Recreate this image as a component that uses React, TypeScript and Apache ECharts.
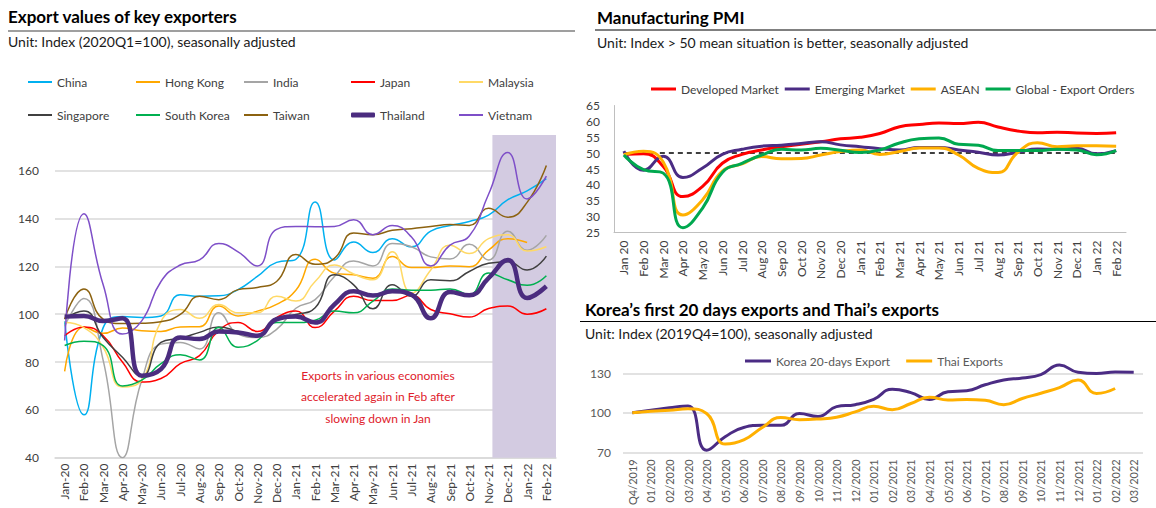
import React, { useEffect, useRef } from 'react';
import * as echarts from 'echarts';

const FONT = 'Lato, "Open Sans", "Noto Sans", sans-serif';

// ---------- Left panel: export values of key exporters ----------
const MONTHS = [
  'Jan-20', 'Feb-20', 'Mar-20', 'Apr-20', 'May-20', 'Jun-20', 'Jul-20', 'Aug-20', 'Sep-20', 'Oct-20', 'Nov-20', 'Dec-20',
  'Jan-21', 'Feb-21', 'Mar-21', 'Apr-21', 'May-21', 'Jun-21', 'Jul-21', 'Aug-21', 'Sep-21', 'Oct-21', 'Nov-21', 'Dec-21',
  'Jan-22', 'Feb-22',
];
const COUNTRIES = ['China', 'Hong Kong', 'India', 'Japan', 'Malaysia', 'Singapore', 'South Korea', 'Taiwan', 'Thailand', 'Vietnam'];
const CHINA = [97, 57.9, 94.4, 99, 98.6, 99.3, 108.2, 107.5, 107.7, 110.3, 115.8, 121.7, 123, 147, 122.7, 130.2, 125.8, 131.6, 128.2, 134.8, 137.1, 138.8, 141.5, 147.9, 151.6, 156.7];
const HONG_KONG = [76.1, 94.7, 92, 94.2, 93.1, 92.8, 94.7, 94.8, 103.4, 99.3, 101.3, 104.1, 110, 123, 117.2, 116.5, 115.1, 124.1, 119.5, 119.5, 120.2, 119.9, 126.8, 131.6, 130, null];
const INDIA = [95, 106.6, 80.7, 40, 72.4, 87.5, 88.2, 85.5, 100.6, 91.7, 90.3, 93.7, 102.5, 106.1, 115.8, 122.3, 120.2, 129.6, 128.2, 124, 123.1, 129.3, 122.7, 134.7, 126.8, 133];
const JAPAN = [91, 94.7, 91, 80, 71.7, 73.1, 79.3, 82.7, 93.2, 96.5, 92.8, 98.6, 101.3, 94.4, 101.3, 107.5, 105.7, 105.7, 107.9, 102, 100.2, 98.8, 102.4, 103.4, 100, 102.3];
const MALAYSIA = [96.5, 94.4, 86.2, 69.6, 72.4, 97, 102, 98.3, 104.1, 100.6, 100.6, 107.5, 105.5, 113.7, 120.6, 116.8, 114.4, 126.1, 108.9, 118.5, 128.9, 125.4, 131.6, 133.3, 126.4, 128.2];
const SINGAPORE = [98, 101.3, 90.3, 82, 74.1, 88.2, 90, 92.4, 94.7, 92.8, 91, 97.9, 99.9, 102.7, 116.5, 112.3, 102.3, 112.3, 107.5, 114.4, 114, 117.9, 121.3, 122, 118.5, 124.3];
const SOUTH_KOREA = [86.9, 88.7, 86.9, 70, 72.4, 79.3, 83.1, 80.9, 94.4, 86.2, 89, 96.5, 96.5, 97.5, 101.3, 100.6, 105.5, 110.6, 110, 110, 110.6, 108.2, 117.2, 114.4, 112.1, 116.1];
const TAIWAN = [98, 110.6, 97.9, 96.1, 96.2, 96.9, 99.9, 107.5, 106.1, 110.3, 111.2, 113.7, 125, 120.9, 123.4, 134, 133.3, 135.1, 135.8, 136.7, 137.5, 137.1, 144.3, 140.6, 146.8, 162.2];
const THAILAND = [99, 99.3, 97.2, 98.3, 74.3, 77, 90.3, 89.6, 92.8, 92.4, 91, 97.9, 99, 96.5, 104.1, 109.6, 107.8, 109.6, 108.2, 98.3, 109.3, 107.9, 115.1, 122.7, 106.8, 111.7];
const VIETNAM = [89, 142, 112.3, 91.7, 97.2, 113.7, 120.6, 122.7, 129.6, 126.1, 120.2, 135.5, 136.7, 136.6, 136.7, 139.5, 133.3, 137.1, 132.3, 120.2, 128.9, 132.7, 150.2, 167.7, 148.2, 157.8];
const LEFT_TICKS = { min: 40, max: 180, interval: 20 };
const ANNOTATION = ['Exports in various economies', 'accelerated again in Feb after', 'slowing down in Jan'];

// ---------- Right top: Manufacturing PMI ----------
const PMI_MONTHS = [
  'Jan 20', 'Feb 20', 'Mar 20', 'Apr 20', 'May 20', 'Jun 20', 'Jul 20', 'Aug 20', 'Sep 20', 'Oct 20', 'Nov 20', 'Dec 20',
  'Jan 21', 'Feb 21', 'Mar 21', 'Apr 21', 'May 21', 'Jun 21', 'Jul 21', 'Aug 21', 'Sep 21', 'Oct 21', 'Nov 21', 'Dec 21',
  'Jan 22', 'Feb 22',
];
const PMI_NAMES = ['Developed Market', 'Emerging Market', 'ASEAN', 'Global - Export Orders'];
const PMI_DEVELOPED = [49.6, 49.8, 45.8, 36.3, 39.5, 46.8, 49.6, 51.0, 52.0, 52.8, 53.6, 54.5, 55.0, 56.2, 58.3, 59.0, 59.5, 59.3, 59.7, 58.2, 57.0, 56.4, 56.6, 56.3, 56.2, 56.4];
const PMI_EMERGING = [50.6, 44.6, 49.0, 42.3, 45.3, 49.6, 51.2, 52.2, 52.5, 53.0, 53.6, 52.6, 52.0, 51.4, 51.0, 51.8, 51.8, 51.0, 50.3, 49.4, 50.3, 51.3, 51.2, 51.5, 49.8, 50.8];
const PMI_ASEAN = [49.5, 50.6, 47.2, 30.5, 35.3, 44.3, 46.6, 48.9, 48.2, 48.3, 49.4, 50.5, 51.0, 49.6, 50.5, 51.6, 51.6, 49.4, 45.2, 43.9, 50.2, 53.3, 52.0, 52.3, 52.3, 52.2];
const PMI_GLOBAL_EXPORT = [49.4, 44.8, 43.7, 26.5, 32.7, 43.9, 46.8, 49.4, 51.2, 51.0, 51.5, 50.9, 50.2, 51.0, 53.2, 54.5, 54.8, 52.8, 52.5, 50.8, 50.8, 50.8, 51.2, 51.0, 49.5, 50.8];
const PMI_THRESHOLD = 50;

// ---------- Right bottom: Korea 20 days exports & Thai exports ----------
const KOREA_PERIODS = [
  'Q4/2019', '01/2020', '02/2020', '03/2020', '04/2020', '05/2020', '06/2020', '07/2020', '08/2020', '09/2020', '10/2020', '11/2020', '12/2020',
  '01/2021', '02/2021', '03/2021', '04/2021', '05/2021', '06/2021', '07/2021', '08/2021', '09/2021', '10/2021', '11/2021', '12/2021',
  '01/2022', '02/2022', '03/2022',
];
const KOREA_NAMES = ['Korea 20-days Export', 'Thai Exports'];
const KOREA_20D = [100, 101.9, 103.8, 105.2, 71.6, 81.8, 88.9, 90.5, 90.5, 99.5, 97.2, 104.7, 106.2, 110.2, 118.0, 115.4, 110.2, 116.1, 116.8, 121.3, 124.9, 126.5, 129.1, 136.3, 130.8, 129.9, 131.0, 130.8];
const THAI_EXPORTS = [100, 101.2, 101.9, 103.1, 99.5, 76.3, 79.4, 88.9, 96.4, 94.8, 95.3, 96.7, 100.7, 105.0, 102.4, 107.1, 111.8, 109.7, 110.2, 109.5, 106.2, 110.9, 114.9, 119.2, 124.9, 114.7, 118.5, null];

const LEFT_DATA = [CHINA, HONG_KONG, INDIA, JAPAN, MALAYSIA, SINGAPORE, SOUTH_KOREA, TAIWAN, THAILAND, VIETNAM];
const LEFT_COLORS = ['#00B0F0', '#FFA800', '#A5A5A5', '#FF0000', '#FFD966', '#404040', '#00B050', '#8C6210', '#4B2C7F', '#7E4FC8'];

function buildOption() {
  const axisText = { fontFamily: FONT, fontSize: 12, color: '#404040' };

  const leftLegends = COUNTRIES.map((name, i) => ({
    left: [28, 136, 244, 351, 459][i % 5],
    top: i < 5 ? 76 : 109,
    padding: 0,
    selectedMode: false,
    icon: name === 'Thailand' ? 'roundRect' : 'rect',
    itemWidth: 24,
    itemHeight: name === 'Thailand' ? 5 : 2,
    textStyle: { fontFamily: FONT, fontSize: 12, color: '#404040' },
    data: [name],
  }));

  const leftSeries = COUNTRIES.map((name, i) => ({
    name,
    type: 'line',
    xAxisIndex: 0,
    yAxisIndex: 0,
    data: LEFT_DATA[i],
    smooth: true,
    symbol: 'none',
    color: LEFT_COLORS[i],
    lineStyle: { color: LEFT_COLORS[i], width: name === 'Thailand' ? 4.5 : 1.5 },
    z: name === 'Thailand' ? 4 : 3,
  }));

  const pmiColors = ['#FF0000', '#4B2C84', '#FFB000', '#00A84F'];
  const pmiData = [PMI_DEVELOPED, PMI_EMERGING, PMI_ASEAN, PMI_GLOBAL_EXPORT];
  const pmiSeries = PMI_NAMES.map((name, i) => ({
    name,
    type: 'line',
    xAxisIndex: 2,
    yAxisIndex: 1,
    data: pmiData[i],
    smooth: true,
    symbol: 'none',
    color: pmiColors[i],
    lineStyle: { color: pmiColors[i], width: 3 },
    z: 3,
    markLine: i === 0 ? {
      silent: true,
      symbol: 'none',
      label: { show: false },
      lineStyle: { color: '#000', type: [5, 4], width: 1.5 },
      data: [[{ coord: [PMI_MONTHS[0], PMI_THRESHOLD] }, { coord: [PMI_MONTHS[PMI_MONTHS.length - 1], PMI_THRESHOLD] }]],
      z: 2,
    } : undefined,
  }));

  const koreaColors = ['#4B2C84', '#FFB000'];
  const koreaData = [KOREA_20D, THAI_EXPORTS];
  const koreaSeries = KOREA_NAMES.map((name, i) => ({
    name,
    type: 'line',
    xAxisIndex: 3,
    yAxisIndex: 2,
    data: koreaData[i],
    smooth: true,
    symbol: 'none',
    color: koreaColors[i],
    lineStyle: { color: koreaColors[i], width: 3 },
  }));

  const titleStyle = { fontFamily: FONT, fontSize: 17, fontWeight: 'bold', color: '#000' };
  const subStyle = { fontFamily: FONT, fontSize: 14, fontWeight: 'normal', color: '#1a1a1a' };

  return {
    animation: false,
    backgroundColor: '#ffffff',
    textStyle: { fontFamily: FONT },
    title: [
      { text: 'Export values of key exporters', left: 8, top: 8, padding: 0, textStyle: titleStyle },
      { text: 'Unit: Index (2020Q1=100), seasonally adjusted', left: 8, top: 34, padding: 0, textStyle: subStyle },
      { text: 'Manufacturing PMI', left: 597, top: 9, padding: 0, textStyle: titleStyle },
      { text: 'Unit: Index > 50 mean situation is better, seasonally adjusted', left: 597, top: 35, padding: 0, textStyle: subStyle },
      { text: 'Korea\u2019s first 20 days exports and Thai\u2019s exports', left: 585, top: 301, padding: 0, textStyle: titleStyle },
      { text: 'Unit: Index (2019Q4=100), seasonally adjusted', left: 585, top: 326, padding: 0, textStyle: subStyle },
    ],
    legend: [
      ...leftLegends,
      {
        left: 651, top: 83, padding: 0, selectedMode: false, icon: 'rect', itemWidth: 25, itemHeight: 3, itemGap: 6,
        textStyle: { fontFamily: FONT, fontSize: 12, color: '#404040' }, data: PMI_NAMES,
      },
      {
        left: 745, top: 355, padding: 0, selectedMode: false, icon: 'rect', itemWidth: 26, itemHeight: 3, itemGap: 16,
        textStyle: { fontFamily: FONT, fontSize: 12, color: '#595959' }, data: KOREA_NAMES,
      },
    ],
    grid: [
      { left: 55, top: 123, width: 501, height: 338.5 },
      { left: 614, top: 105.5, width: 512, height: 127 },
      { left: 623, top: 360.2, width: 520, height: 99.5 },
    ],
    xAxis: [
      {
        type: 'category', gridIndex: 0, data: MONTHS, boundaryGap: true,
        axisLine: { show: true, lineStyle: { color: '#d9d9d9', width: 1.5 } },
        axisTick: { show: false },
        axisLabel: { ...axisText, rotate: 90, margin: 6, interval: 0 },
      },
      { type: 'value', gridIndex: 0, min: -0.5, max: MONTHS.length - 0.5, show: false },
      {
        type: 'category', gridIndex: 1, data: PMI_MONTHS, boundaryGap: true,
        axisLine: { show: true, lineStyle: { color: '#bfbfbf' } },
        axisTick: { show: false },
        axisLabel: { ...axisText, rotate: 90, margin: 8, interval: 0 },
      },
      {
        type: 'category', gridIndex: 2, data: KOREA_PERIODS, boundaryGap: true,
        axisLine: { show: false },
        axisTick: { show: false },
        axisLabel: { fontFamily: FONT, fontSize: 11, color: '#595959', rotate: 90, margin: 7, interval: 0 },
      },
    ],
    yAxis: [
      {
        type: 'value', gridIndex: 0, min: LEFT_TICKS.min, max: LEFT_TICKS.max, interval: LEFT_TICKS.interval,
        axisLine: { show: false }, axisTick: { show: false },
        splitLine: { show: true, showMaxLine: false, lineStyle: { color: '#d9d9d9', width: 1.5 } },
        axisLabel: { ...axisText, margin: 16, showMaxLabel: false, formatter: (v: number) => (v >= 180 ? '' : String(v)) },
      },
      {
        type: 'value', gridIndex: 1, min: 25, max: 65, interval: 5,
        axisLine: { show: true, lineStyle: { color: '#bfbfbf' } }, axisTick: { show: false },
        splitLine: { show: false },
        axisLabel: { ...axisText, margin: 14 },
      },
      {
        type: 'value', gridIndex: 2, min: 70, max: 140, interval: 30,
        axisLine: { show: false }, axisTick: { show: false },
        splitLine: { show: true, showMaxLine: false, lineStyle: { color: '#d9d9d9', width: 1.5 } },
        axisLabel: { fontFamily: FONT, fontSize: 12, color: '#595959', margin: 12, showMaxLabel: false, formatter: (v: number) => (v > 130 ? '' : String(v)) },
      },
    ],
    series: [
      {
        type: 'line', xAxisIndex: 1, yAxisIndex: 0, data: [], silent: true, z: 1,
        markArea: {
          silent: true,
          itemStyle: { color: '#D3CBE1' },
          data: [[{ xAxis: 22.2, yAxis: 175 }, { xAxis: MONTHS.length - 0.5, yAxis: LEFT_TICKS.min }]],
        },
      },
      ...leftSeries,
      ...pmiSeries,
      ...koreaSeries,
    ],
    graphic: [
      { type: 'line', silent: true, shape: { x1: 8, y1: 31, x2: 575, y2: 31 }, style: { stroke: '#7f7f7f', lineWidth: 1.5 } },
      { type: 'line', silent: true, shape: { x1: 595, y1: 30, x2: 1156, y2: 30 }, style: { stroke: '#000', lineWidth: 1 } },
      { type: 'line', silent: true, shape: { x1: 580, y1: 321.5, x2: 1156, y2: 321.5 }, style: { stroke: '#000', lineWidth: 1 } },
      ...ANNOTATION.map((t, i) => ({
        type: 'text',
        silent: true,
        x: 378,
        y: 375 + i * 21.5,
        style: {
          text: t, font: `12px ${FONT}`, fill: '#E0202B',
          textAlign: 'center', textVerticalAlign: 'middle', align: 'center', verticalAlign: 'middle',
        },
      })),
    ],
  };
}

export default function App() {
  const ref = useRef<HTMLDivElement>(null);
  useEffect(() => {
    if (!ref.current) return;
    const chart = echarts.init(ref.current, null, { renderer: 'svg' });
    chart.setOption(buildOption() as any);
    return () => chart.dispose();
  }, []);
  return (
    <div
      ref={ref}
      style={{ position: 'fixed', left: 0, top: 0, width: 1156, height: 508, background: '#fff' }}
    />
  );
}
